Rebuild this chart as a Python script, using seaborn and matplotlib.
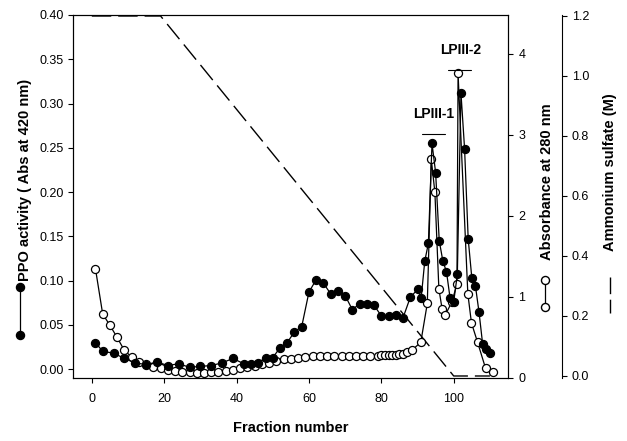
import matplotlib
matplotlib.use("Agg")
import matplotlib.pyplot as plt
from matplotlib.lines import Line2D
import seaborn as sns
import numpy as np

# ---- data ----
ppo_fraction = [1, 3, 6, 9, 12, 15, 18, 21, 24, 27, 30, 33, 36, 39, 42, 44, 46, 48, 50, 52,
                54, 56, 58, 60, 62, 64, 66, 68, 70, 72, 74, 76, 78, 80, 82, 84, 86, 88, 90, 91,
                92, 93, 94, 95, 96, 97, 98, 99, 100, 101, 102, 103, 104, 105, 106, 107, 108, 109, 110]
ppo_activity = [0.030, 0.020, 0.018, 0.012, 0.007, 0.005, 0.008, 0.004, 0.006, 0.002,
                0.003, 0.004, 0.007, 0.012, 0.006, 0.006, 0.007, 0.013, 0.013, 0.024,
                0.030, 0.042, 0.048, 0.087, 0.101, 0.097, 0.085, 0.088, 0.083, 0.067,
                0.074, 0.073, 0.072, 0.060, 0.060, 0.061, 0.058, 0.081, 0.090, 0.080,
                0.122, 0.142, 0.255, 0.222, 0.145, 0.122, 0.110, 0.080, 0.076, 0.107,
                0.312, 0.249, 0.147, 0.103, 0.094, 0.064, 0.028, 0.023, 0.018]

abs_fraction = [1, 3, 5, 7, 9, 11, 13, 15, 17, 19, 21, 23, 25, 27, 29, 31, 33, 35, 37, 39,
                41, 43, 45, 47, 49, 51, 53, 55, 57, 59, 61, 63, 65, 67, 69, 71, 73, 75, 77, 79,
                80, 81, 82, 83, 84, 85, 86, 87, 88.6, 90.9, 92.7, 93.8, 94.8, 95.9, 96.8, 97.7,
                99.5, 100.9, 101.2, 103.9, 104.9, 106.6, 108.8, 110.8]
abs_280 = [1.35, 0.79, 0.65, 0.50, 0.34, 0.26, 0.20, 0.17, 0.13, 0.12, 0.10, 0.09, 0.08, 0.07,
           0.06, 0.06, 0.07, 0.08, 0.09, 0.10, 0.12, 0.13, 0.15, 0.17, 0.19, 0.21, 0.23, 0.24,
           0.25, 0.26, 0.27, 0.27, 0.27, 0.27, 0.27, 0.27, 0.27, 0.27, 0.27, 0.27, 0.28, 0.28,
           0.28, 0.29, 0.29, 0.30, 0.30, 0.32, 0.35, 0.44, 0.92, 2.70, 2.29, 1.10, 0.85, 0.78,
           0.94, 1.16, 3.76, 1.04, 0.68, 0.44, 0.12, 0.08]

salt_fraction = [0, 19, 100, 110]
salt_molar = [1.2, 1.2, 0.0, 0.0]

peak_labels = ["LPIII-1", "LPIII-2"]
peak_label_x = [94.5, 101.8]
peak_label_y = [0.288, 0.360]

x_ticks = [0, 20, 40, 60, 80, 100]
ppo_ticks = [0.00, 0.05, 0.10, 0.15, 0.20, 0.25, 0.30, 0.35, 0.40]
abs_ticks = [0, 1, 2, 3, 4]
salt_ticks = [0.0, 0.2, 0.4, 0.6, 0.8, 1.0, 1.2]

# ---- style ----
sns.set_style("ticks")
plt.rcParams['font.family'] = ['Liberation Sans', 'DejaVu Sans']
plt.rcParams['axes.linewidth'] = 0.8
for k in ['text.color', 'axes.labelcolor', 'xtick.color', 'ytick.color', 'axes.edgecolor']:
    plt.rcParams[k] = 'black'

W, H = 627, 441
fig = plt.figure(figsize=(W / 100, H / 100), dpi=100)
ax1 = fig.add_axes([73 / W, 1 - 378 / H, (508 - 73) / W, (378 - 15) / H])
ax2 = ax1.twinx()
ax3 = ax1.twinx()

MS = 5.8
line_kw = dict(color='black', linewidth=0.9, marker='o', markersize=MS,
               markeredgecolor='black', markeredgewidth=0.9)

sns.lineplot(x=abs_fraction, y=abs_280, ax=ax2, sort=False,
             markerfacecolor='white', **line_kw)
sns.lineplot(x=ppo_fraction, y=ppo_activity, ax=ax1, sort=False,
             markerfacecolor='black', **line_kw)
sns.lineplot(x=salt_fraction, y=salt_molar, ax=ax3, sort=False,
             color='black', linewidth=1.0, linestyle='--')
ax3.lines[-1].set_dashes((14, 5))

ax1.set_zorder(3)
ax1.patch.set_visible(False)
ax2.set_zorder(2)
ax3.set_zorder(1)

# limits
ax1.set_xlim(-5.2, 115)
ax1.set_ylim(-0.0101, 0.399)
ax2.set_ylim(0, 4.48)
ax3.set_ylim(-0.0067, 1.2033)

# ticks
tick_kw = dict(direction='out', length=3.5, width=0.8, labelsize=9, colors='black')
ax1.set_xticks(x_ticks)
ax1.set_yticks(ppo_ticks)
ax1.set_yticklabels([f"{v:.2f}" for v in ppo_ticks])
ax2.set_yticks(abs_ticks)
ax2.set_yticklabels([str(v) for v in abs_ticks])
ax3.set_yticks(salt_ticks)
ax3.set_yticklabels([f"{v:.1f}" for v in salt_ticks])
for a in (ax1, ax2, ax3):
    a.tick_params(axis='both', **tick_kw)
ax1.tick_params(axis='x', pad=7)
ax1.tick_params(axis='y', pad=3)
ax2.tick_params(axis='y', pad=4)

# spines
for s in ax1.spines.values():
    s.set_visible(True)
    s.set_linewidth(0.8)
    s.set_color('black')
for s in ['top', 'left', 'bottom']:
    ax3.spines[s].set_visible(False)
ax3.spines['right'].set_position(('axes', (562 - 73) / (508 - 73)))
ax3.spines['right'].set_linewidth(0.8)
ax3.spines['right'].set_color('black')
ax2.spines['right'].set_color('black')

ax1.set_xlabel("Fraction number", fontsize=10.5, fontweight='bold', labelpad=12)
ax1.set_ylabel("")
ax2.set_ylabel("")
ax3.set_ylabel("")

# peak labels with bars
for lab, lx, ly in zip(peak_labels, peak_label_x, peak_label_y):
    ax1.text(lx, ly, lab, ha='center', va='center', fontsize=10, fontweight='bold')
    ax1.plot([lx - 3.3, lx + 3.0], [ly - 0.022, ly - 0.022], color='black', linewidth=0.8)

# axis titles with key symbols
fig.text(25 / W, 1 - 180 / H, "PPO activity ( Abs at 420 nm)", rotation=90,
         ha='center', va='center', fontsize=10.5, fontweight='bold')
fig.add_artist(Line2D([20 / W, 20 / W], [1 - 287 / H, 1 - 335 / H], transform=fig.transFigure,
                      color='black', linewidth=0.9, marker='o', markersize=MS,
                      markerfacecolor='black', markeredgecolor='black'))

fig.text(547 / W, 1 - 182 / H, "Absorbance at 280 nm", rotation=90,
         ha='center', va='center', fontsize=10.5, fontweight='bold')
fig.add_artist(Line2D([545 / W, 545 / W], [1 - 280 / H, 1 - 307 / H], transform=fig.transFigure,
                      color='black', linewidth=0.9, marker='o', markersize=MS,
                      markerfacecolor='white', markeredgecolor='black'))

fig.text(610 / W, 1 - 172 / H, "Ammonium sulfate (M)", rotation=90,
         ha='center', va='center', fontsize=10.5, fontweight='bold')
key = Line2D([610 / W, 610 / W], [1 - 277 / H, 1 - 313 / H], transform=fig.transFigure,
             color='black', linewidth=1.0)
key.set_dashes((12, 4))
fig.add_artist(key)

fig.savefig("out.png", dpi=100)
